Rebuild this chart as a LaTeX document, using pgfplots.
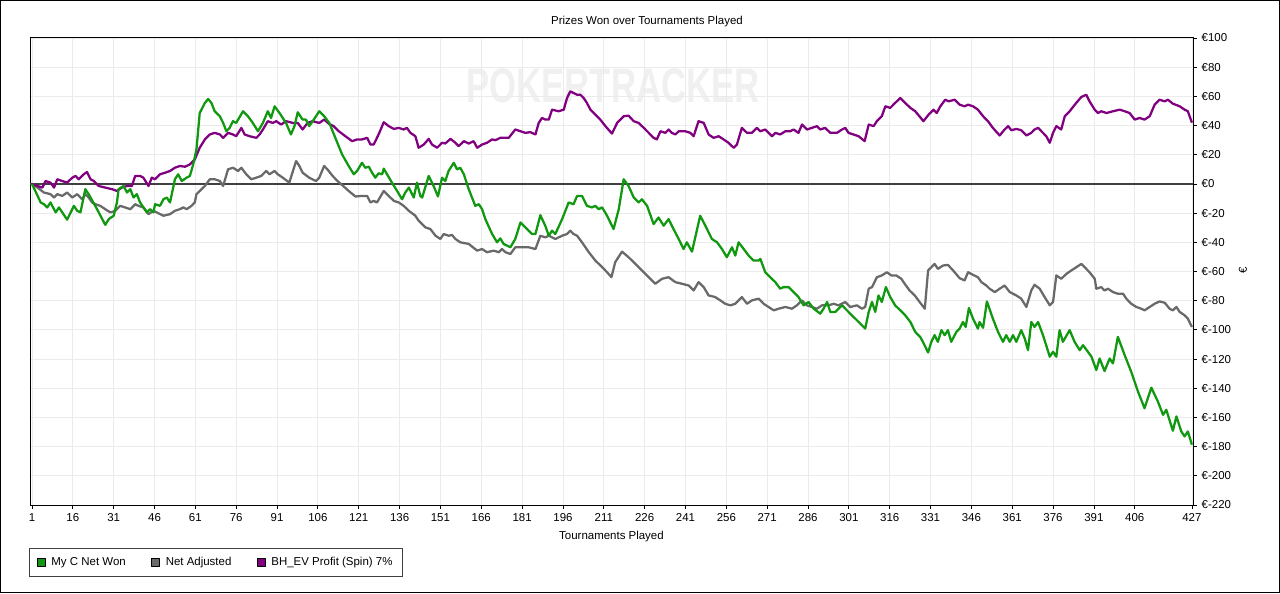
\documentclass[border=0pt]{standalone}
\usepackage{pgfplots}
\pgfplotsset{compat=1.18}
\usepackage{fontspec}
\setmainfont{Liberation Sans}
\definecolor{cgreen}{RGB}{16,152,16}
\definecolor{cgray}{RGB}{105,105,105}
\definecolor{cpurple}{RGB}{128,0,128}
\begin{document}
\begin{tikzpicture}[x=1pt,y=1pt]
\useasboundingbox (0,0) rectangle (960,444.75);
\draw[black, line width=0.75pt] (0.375,0.375) rectangle (959.625,444.375);
\node[text=black!6, font=\fontsize{26}{26}\selectfont\bfseries, yscale=1.4] at (459.75,380.25) {POKERTRACKER};
\node[font=\fontsize{8.6}{10}\selectfont] at (485.25,428.25) {Prizes Won over Tournaments Played};
\node[font=\fontsize{8.6}{10}\selectfont] at (458.6,42) {Tournaments Played};
\node[font=\fontsize{8.6}{10}\selectfont, rotate=90] at (932.25,242.25) {€};
\begin{axis}[
  at={(22.5pt,66pt)}, anchor=south west,
  scale only axis, width=872.25pt, height=350.25pt,
  xmin=0.27, xmax=427.4, ymin=-220, ymax=100,
  xtick={1,16,31,46,61,76,91,106,121,136,151,166,181,196,211,226,241,256,271,286,301,316,331,346,361,376,391,406,427},
  ytick={-220,-200,...,100},
  yticklabels={€-220,€-200,€-180,€-160,€-140,€-120,€-100,€-80,€-60,€-40,€-20,€0,€20,€40,€60,€80,€100},
  xtick pos=bottom, ytick pos=right, yticklabel pos=right,
  tick align=outside, major tick length=3pt,
  tick style={black, line width=0.6pt},
  ticklabel style={font=\fontsize{8.6}{10}\selectfont},
  /pgf/number format/assume math mode=true,
  grid=major, major grid style={color=black!8, line width=0.6pt},
  axis line style={black, line width=0.75pt},
  extra y ticks={0}, extra y tick labels={},
  extra y tick style={grid=major, major grid style={color=black!75, line width=1.1pt}},
  legend columns=3, legend cell align=left,
  legend style={at={(axis description cs:-0.001,-0.092)}, anchor=north west,
    draw=black!75, line width=0.9pt, font=\fontsize{8.6}{10}\selectfont,
    inner xsep=5.5pt, inner ysep=4.5pt,
    /tikz/every odd column/.append style={column sep=2.5pt},
    /tikz/every even column/.append style={column sep=17pt}},
  every axis plot/.append style={line width=1.7pt, line join=round},
]
\addlegendimage{legend image code/.code={\draw[fill=cgreen,draw=black,line width=0.5pt] (0pt,-3pt) rectangle (6pt,3pt);}}
\addlegendentry{My C Net Won}
\addlegendimage{legend image code/.code={\draw[fill=cgray,draw=black,line width=0.5pt] (0pt,-3pt) rectangle (6pt,3pt);}}
\addlegendentry{Net Adjusted}
\addlegendimage{legend image code/.code={\draw[fill=cpurple,draw=black,line width=0.5pt] (0pt,-3pt) rectangle (6pt,3pt);}}
\addlegendentry{BH\_EV Profit (Spin) 7\%}

\addplot[cgray, forget plot] coordinates {
(1,0)(3.0,-2.5)(5.4,-5.9)(7.8,-7.0)(9.1,-9.3)(10.3,-7.0)(12.1,-8.2)(13.9,-5.9)(15.8,-9.3)(17.6,-7.0)(19.4,-10.5)(20.6,-7.0)(21.8,-9.3)(23.1,-12.7)(24.3,-13.9)(26.1,-15.0)(27.9,-17.3)(29.8,-19.5)(31.6,-18.4)(33.4,-15.0)(35.2,-16.1)(37.1,-17.3)(38.9,-13.9)(40.1,-15.0)(41.9,-16.1)(43.8,-20.7)(45.6,-18.4)(46.8,-19.5)(49.3,-21.8)(51.7,-20.7)(53.5,-18.4)(55.3,-17.3)(56.6,-16.1)(57.8,-17.3)(59.6,-15.0)(60.8,-12.7)(61.4,-7.0)(63.3,-3.6)(64.5,-1.4)(66.3,3.2)(68.1,3.2)(70.0,2.0)(71.2,-1.4)(73.0,10.0)(74.8,11.1)(76.7,8.9)(77.9,11.1)(79.7,6.6)(81.5,3.2)(83.4,4.3)(85.2,5.5)(87.0,8.9)(88.2,6.6)(90.1,8.9)(91.3,6.6)(93.1,4.3)(95.5,0.9)(98.0,15.7)(99.2,12.3)(100.4,7.7)(102.8,4.3)(105.3,2.0)(106.5,4.3)(108.3,12.3)(109.5,10.0)(111.4,5.5)(113.2,2.0)(115.0,-0.9)(117.3,-4.8)(119.8,-8.6)(122.2,-8.2)(124.1,-8.2)(125.3,-12.7)(126.5,-11.6)(127.7,-12.7)(130.2,-4.8)(132.0,-8.2)(133.9,-11.6)(135.7,-12.7)(137.5,-15.0)(139.4,-18.4)(141.8,-21.8)(143.0,-25.2)(145.5,-29.8)(147.3,-30.9)(149.2,-35.5)(151.0,-37.7)(152.2,-34.3)(154.0,-35.5)(155.3,-35.0)(156.5,-37.7)(158.3,-40.0)(161.4,-41.1)(164.5,-45.7)(166.3,-44.6)(168.1,-46.8)(170.6,-45.7)(172.4,-46.8)(173.6,-44.6)(174.9,-46.8)(176.7,-48.0)(178.5,-43.4)(181.0,-43.4)(183.4,-43.4)(185.9,-44.6)(187.7,-35.5)(189.5,-36.6)(190.8,-35.5)(193.2,-37.7)(195.7,-35.5)(197.5,-34.3)(198.7,-32.0)(199.9,-34.3)(201.2,-35.5)(203.0,-40.0)(205.5,-46.8)(207.9,-52.5)(210.4,-57.0)(212.2,-60.5)(213.8,-63.9)(215.2,-53.6)(217.7,-46.4)(220.1,-50.2)(222.6,-54.8)(225.0,-59.3)(227.5,-63.9)(229.9,-68.4)(232.4,-65.0)(234.8,-63.9)(237.3,-67.3)(239.7,-68.4)(242.2,-69.6)(244.0,-73.0)(245.8,-67.3)(247.7,-70.7)(249.5,-76.4)(251.9,-77.5)(253.8,-79.8)(255.6,-82.1)(257.5,-83.2)(259.3,-82.1)(261.7,-77.5)(263.6,-82.1)(265.4,-79.8)(267.9,-78.6)(269.7,-82.1)(271.5,-84.3)(273.4,-86.6)(275.2,-85.5)(277.7,-84.3)(280.1,-85.5)(281.9,-83.2)(283.8,-79.8)(285.6,-83.2)(287.4,-84.3)(289.3,-85.5)(291.1,-83.2)(293.6,-83.2)(295.4,-82.1)(297.2,-83.2)(299.7,-80.9)(301.5,-84.3)(304.0,-83.2)(305.8,-85.5)(307.0,-84.3)(308.3,-71.8)(309.5,-70.7)(311.3,-63.9)(313.1,-62.7)(315.0,-60.5)(316.6,-62.7)(318.4,-62.7)(320.3,-65.0)(321.5,-68.4)(323.3,-73.0)(325.2,-76.4)(327.0,-80.9)(328.9,-85.5)(330.1,-59.3)(331.3,-57.1)(332.5,-54.8)(333.7,-58.2)(335.6,-55.9)(337.4,-55.5)(339.3,-59.3)(341.7,-64.6)(343.5,-66.1)(344.8,-60.5)(346.6,-62.3)(348.4,-63.9)(349.7,-67.3)(351.5,-69.6)(352.7,-71.8)(354.6,-74.1)(356.4,-71.8)(358.2,-69.6)(360.1,-74.1)(362.5,-76.4)(364.3,-78.6)(366.2,-84.3)(368.0,-73.0)(369.2,-69.1)(371.1,-71.8)(372.9,-77.5)(374.8,-83.2)(376.0,-80.9)(377.2,-62.7)(379.0,-65.0)(380.9,-61.6)(382.7,-59.3)(384.5,-57.1)(386.4,-54.8)(388.2,-58.2)(389.4,-60.5)(391.3,-65.0)(391.9,-71.8)(393.7,-70.7)(394.9,-73.0)(396.2,-71.8)(398.0,-74.1)(399.8,-75.2)(401.7,-75.2)(402.9,-78.6)(404.7,-82.1)(406.6,-84.3)(408.4,-85.5)(409.6,-86.6)(411.5,-84.3)(413.3,-82.1)(415.1,-80.5)(417.0,-81.4)(418.8,-85.5)(420.0,-86.6)(421.3,-84.3)(422.5,-87.7)(424.3,-90.0)(425.5,-92.3)(427,-98.0)
};

\addplot[cpurple, forget plot] coordinates {
(1,0)(3.0,-1.4)(4.8,-2.5)(6.0,2.0)(7.8,0.9)(9.1,-2.5)(10.3,3.2)(12.1,2.0)(13.9,0.9)(15.8,4.3)(17.0,5.5)(18.2,3.2)(20.0,6.6)(21.2,8.2)(22.5,3.2)(23.7,2.0)(25.5,-1.4)(27.9,-2.5)(30.4,-3.6)(32.2,-4.8)(34.0,-2.5)(35.9,-1.4)(37.7,-1.4)(38.9,5.5)(40.7,5.5)(41.9,4.3)(43.8,-1.4)(45.0,4.3)(46.2,3.2)(48.0,6.6)(49.9,7.7)(51.7,8.9)(53.5,11.1)(55.3,12.3)(57.2,11.8)(59.0,13.4)(60.8,16.8)(62.6,24.8)(64.5,30.5)(66.3,33.9)(68.1,35.0)(70.0,33.9)(71.2,31.6)(73.0,35.0)(74.8,33.9)(76.0,32.7)(77.9,38.4)(79.1,33.9)(80.9,32.7)(83.4,31.6)(84.6,33.9)(85.8,37.3)(87.6,43.0)(89.4,41.8)(90.7,43.0)(92.5,40.7)(94.3,43.0)(96.8,41.8)(98.6,41.8)(100.4,37.3)(102.2,41.8)(104.1,43.0)(106.5,41.8)(108.3,44.1)(110.2,41.0)(111.8,39.6)(113.7,36.1)(116.1,32.7)(118.6,29.3)(120.4,30.5)(122.2,30.5)(124.1,31.6)(125.3,27.0)(126.5,27.0)(128.3,33.9)(130.2,42.3)(132.0,39.6)(133.9,37.7)(135.7,38.4)(137.5,37.3)(138.7,38.4)(140.0,35.0)(141.8,32.7)(143.0,24.8)(144.9,27.0)(146.7,30.9)(147.9,27.0)(149.8,24.8)(151.6,28.2)(152.8,27.7)(154.7,30.9)(156.5,28.2)(157.7,25.9)(159.6,29.3)(161.4,27.7)(163.2,29.3)(164.5,24.8)(166.3,27.0)(168.1,28.2)(170.0,30.5)(171.2,30.0)(173.0,31.6)(174.2,31.6)(176.1,31.6)(178.5,37.3)(180.4,36.1)(182.2,35.0)(184.0,35.5)(185.9,33.9)(187.1,41.8)(188.3,45.2)(189.5,44.1)(190.8,44.1)(192.0,50.9)(194.4,49.8)(196.3,50.9)(197.5,58.9)(198.7,63.4)(199.9,62.3)(201.2,61.1)(202.4,61.1)(203.6,58.9)(204.8,55.5)(206.1,50.9)(207.9,47.5)(209.7,44.1)(211.6,39.6)(214.0,34.5)(215.9,41.8)(218.3,46.4)(220.1,46.8)(222.0,43.0)(223.8,41.8)(225.7,38.4)(227.5,35.0)(229.3,31.6)(230.5,30.5)(231.8,36.1)(233.6,35.0)(234.8,37.3)(236.0,35.0)(237.3,33.9)(238.5,36.1)(240.9,36.1)(242.8,35.0)(244.0,32.7)(245.8,43.0)(247.7,41.8)(249.5,33.9)(251.3,31.6)(253.2,32.7)(255.0,30.5)(256.8,28.2)(258.7,24.8)(259.9,27.0)(261.7,38.4)(263.6,35.0)(265.4,35.0)(267.2,38.4)(268.5,36.1)(270.3,37.3)(271.5,35.0)(272.8,32.7)(274.0,35.0)(275.8,33.9)(277.7,36.1)(279.5,36.1)(280.7,37.3)(282.5,35.0)(283.8,40.7)(285.6,37.3)(287.4,38.4)(289.3,39.6)(290.5,37.3)(292.3,38.4)(294.2,35.0)(296.6,35.0)(298.5,37.3)(299.7,38.4)(300.9,35.0)(302.7,33.9)(304.6,32.7)(306.8,29.3)(308.3,40.7)(310.1,39.6)(311.3,43.0)(313.1,46.4)(314.4,53.2)(316.2,52.1)(318.0,55.5)(319.9,58.9)(321.7,55.5)(323.6,52.1)(325.4,49.8)(328.4,43.0)(330.3,47.5)(332.1,50.9)(333.3,48.6)(334.6,53.2)(336.4,57.7)(337.6,56.6)(339.9,57.7)(341.7,54.3)(343.5,53.2)(344.8,54.3)(346.6,53.2)(348.4,50.9)(350.3,46.4)(352.1,43.0)(353.9,38.4)(356.4,33.2)(358.2,37.3)(359.5,39.6)(360.7,36.8)(362.5,37.7)(364.3,36.8)(366.2,33.2)(368.0,35.0)(369.2,37.3)(370.5,38.4)(372.3,35.0)(373.5,32.7)(374.8,28.2)(376.0,35.0)(377.2,39.6)(379.0,37.3)(380.3,46.4)(382.1,49.8)(384.5,55.5)(386.4,59.6)(388.2,61.1)(389.4,56.6)(391.3,50.9)(392.5,48.6)(393.7,49.8)(395.6,48.6)(398.0,49.8)(400.5,50.9)(402.3,49.8)(404.1,48.6)(406.0,44.1)(407.8,45.2)(409.6,44.1)(411.5,46.4)(413.3,54.3)(415.1,57.7)(417.0,56.6)(418.2,57.7)(420.0,55.0)(422.5,53.2)(424.3,50.9)(425.5,49.8)(427,42.0)
};

\addplot[cgreen, forget plot] coordinates {
(1,0)(4.2,-12.7)(5.4,-13.9)(6.6,-16.1)(7.8,-12.7)(9.7,-19.5)(10.9,-16.1)(13.9,-24.5)(16.4,-15.0)(17.6,-18.4)(18.8,-19.5)(20.6,-3.6)(21.8,-7.0)(24.9,-17.3)(27.9,-28.0)(29.2,-24.1)(31.0,-21.8)(32.2,-12.7)(32.8,-3.6)(34.6,-1.4)(35.9,-5.9)(37.1,-3.6)(38.3,-9.3)(39.5,-7.0)(40.7,-12.7)(43.2,-19.5)(44.4,-17.3)(45.6,-19.5)(46.2,-13.9)(48.0,-15.0)(49.3,-10.5)(50.5,-9.3)(51.7,-12.7)(53.5,3.2)(54.7,6.6)(56.0,2.0)(57.8,4.3)(59.0,5.5)(60.2,13.4)(61.4,23.6)(62.6,48.6)(64.5,55.5)(65.7,58.2)(66.9,55.5)(68.1,49.8)(70.0,46.4)(71.2,41.8)(72.4,36.1)(73.6,38.4)(74.8,43.0)(76.0,41.8)(78.5,49.8)(80.3,46.4)(82.1,41.8)(84.0,36.1)(85.8,41.8)(87.6,49.8)(88.8,45.2)(90.1,53.2)(91.9,48.6)(94.3,41.8)(96.1,33.9)(97.4,39.6)(98.6,49.1)(100.4,44.1)(101.6,44.1)(102.8,39.6)(104.1,43.0)(106.5,49.8)(108.3,46.4)(110.2,41.8)(112.4,31.6)(114.9,20.2)(117.3,12.3)(119.2,6.6)(120.4,8.9)(122.2,14.5)(123.4,11.1)(124.7,11.8)(125.9,7.7)(127.1,4.3)(128.3,7.3)(129.6,6.6)(130.2,10.5)(131.4,6.6)(133.2,0.9)(135.1,-4.8)(136.9,-10.5)(138.1,-5.9)(139.4,-2.5)(141.2,-9.3)(142.4,0.9)(143.6,-8.2)(144.3,-9.3)(146.7,5.5)(148.5,-1.4)(150.1,-8.6)(151.6,4.3)(152.8,2.0)(154.0,8.9)(155.9,14.5)(157.1,10.0)(158.3,11.1)(159.6,6.6)(161.4,-3.6)(163.8,-15.0)(165.1,-13.9)(166.3,-17.3)(167.5,-24.1)(170.0,-34.3)(171.8,-40.0)(173.0,-37.3)(174.2,-41.1)(176.7,-43.4)(178.5,-37.7)(180.4,-26.4)(182.2,-29.8)(184.6,-34.3)(185.9,-34.3)(187.7,-21.4)(189.5,-28.6)(190.8,-35.5)(192.0,-32.0)(193.2,-34.3)(195.7,-24.1)(198.1,-12.7)(199.9,-13.9)(201.2,-8.2)(203.0,-8.2)(204.8,-15.0)(206.7,-16.1)(207.9,-15.0)(209.1,-17.3)(210.4,-16.1)(212.2,-21.8)(214.6,-30.9)(216.5,-17.3)(218.3,3.2)(220.1,-1.4)(222.0,-9.3)(223.8,-12.7)(225.0,-10.5)(226.9,-15.0)(229.3,-27.5)(231.1,-23.0)(233.0,-28.6)(234.8,-24.1)(236.6,-30.9)(238.5,-37.7)(240.3,-44.6)(241.5,-40.0)(243.4,-46.4)(246.4,-21.8)(248.3,-28.6)(250.7,-37.7)(252.6,-40.0)(254.4,-44.6)(256.2,-50.2)(258.1,-43.4)(259.3,-49.1)(260.5,-40.0)(262.4,-44.6)(264.2,-49.1)(266.0,-52.5)(267.9,-52.5)(268.5,-51.4)(270.3,-60.5)(272.1,-63.9)(274.0,-67.3)(275.8,-71.8)(277.0,-70.7)(278.9,-70.7)(280.7,-74.1)(282.5,-77.5)(284.4,-83.2)(286.2,-80.9)(288.1,-85.5)(290.5,-88.9)(291.7,-85.5)(293.0,-80.9)(294.2,-87.7)(296.0,-87.7)(298.5,-83.2)(300.3,-86.6)(302.1,-90.0)(304.6,-94.6)(307.0,-99.1)(308.3,-87.7)(309.5,-80.9)(310.7,-87.7)(311.9,-76.4)(313.1,-80.9)(314.6,-70.7)(316.2,-77.5)(318.0,-83.2)(319.9,-86.6)(321.7,-90.0)(323.6,-94.6)(325.4,-101.4)(327.2,-104.8)(328.2,-108.2)(330.1,-115.5)(331.3,-108.2)(332.5,-103.6)(333.7,-108.2)(335.0,-100.2)(336.2,-103.6)(337.4,-100.2)(338.6,-108.2)(340.5,-101.4)(341.7,-99.1)(342.9,-94.6)(343.9,-98.0)(345.1,-85.0)(346.6,-92.3)(348.4,-99.1)(349.0,-94.6)(350.3,-98.6)(351.7,-80.5)(353.9,-92.3)(355.8,-101.4)(357.6,-108.2)(358.8,-103.6)(360.1,-108.2)(361.3,-103.6)(362.5,-108.2)(364.3,-100.2)(365.6,-105.9)(366.8,-113.9)(368.0,-94.6)(369.2,-98.0)(370.5,-94.6)(372.3,-103.6)(374.8,-118.4)(376.0,-115.0)(377.2,-118.4)(378.4,-100.2)(379.6,-108.2)(382.1,-100.2)(383.9,-108.2)(385.8,-113.9)(387.0,-110.5)(388.8,-115.0)(390.1,-118.4)(391.9,-127.5)(393.1,-119.6)(394.9,-128.2)(396.8,-119.6)(398.0,-123.0)(399.8,-104.8)(402.3,-117.3)(404.7,-128.7)(407.2,-142.3)(409.6,-153.7)(412.1,-139.6)(414.5,-149.1)(416.4,-158.2)(417.6,-154.8)(420.0,-169.1)(421.3,-159.3)(423.1,-169.6)(424.3,-173.0)(425.5,-169.6)(427,-178.7)
};
\end{axis}
\end{tikzpicture}
\end{document}
